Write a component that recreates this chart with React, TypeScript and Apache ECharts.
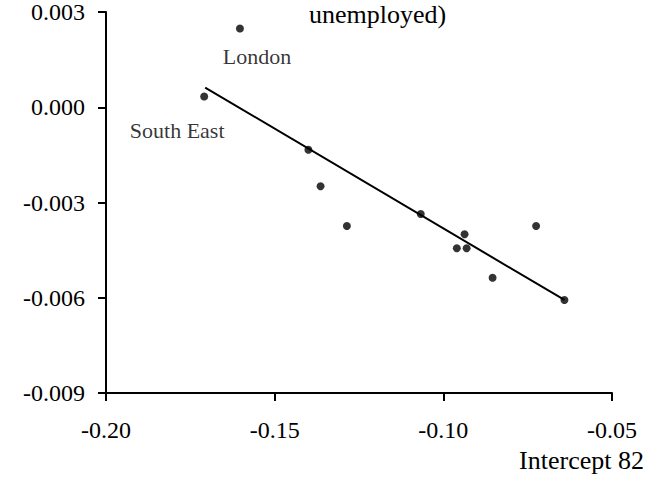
import React, { useEffect, useRef } from "react";
import * as echarts from "echarts";

const FONT = '"Liberation Serif", "Times New Roman", serif';

const titleText = "unemployed)";
const xAxisName = "Intercept 82";

// Scatter points: intercept 82 (x) vs slope (y)
const pointNames = ["South East", "London", "", "", "", "", "", "", "", "", "", ""];
const xValues = [-0.1709, -0.1603, -0.14, -0.1364, -0.1286, -0.1067, -0.0937, -0.096, -0.0931, -0.0854, -0.0725, -0.0641];
const yValues = [0.00034, 0.00248, -0.00134, -0.00249, -0.00374, -0.00336, -0.004, -0.00444, -0.00444, -0.00537, -0.00374, -0.00607];

// Fitted regression line end points
const lineX = [-0.1706, -0.0641];
const lineY = [0.00062, -0.00607];

const labelOffsets: Record<string, [number, number]> = {
  "South East": [-27, 34],
  London: [17, 28],
};

export default function App() {
  const ref = useRef<HTMLDivElement>(null);
  useEffect(() => {
    if (!ref.current) return;
    const chart = echarts.init(ref.current, undefined, { renderer: "svg" });
    const scatterData = xValues.map((x, i) => {
      const name = pointNames[i];
      const item: any = { value: [x, yValues[i]], name };
      if (name) {
        item.label = {
          show: true,
          formatter: name,
          position: "inside",
          align: "center",
          verticalAlign: "middle",
          offset: labelOffsets[name],
          color: "#000",
          fontFamily: FONT,
          fontSize: 22,
        };
      }
      return item;
    });
    chart.setOption({
      animation: false,
      backgroundColor: "#fff",
      title: {
        text: titleText,
        left: 309,
        top: 1,
        padding: 0,
        textStyle: { fontFamily: FONT, fontSize: 26, fontWeight: "normal", color: "#000" },
      },
      grid: { left: 106, right: 49, top: 11, bottom: 86 },
      xAxis: {
        type: "value",
        min: -0.2,
        max: -0.05,
        interval: 0.05,
        axisLine: { show: true, onZero: false, lineStyle: { color: "#000", width: 2 } },
        axisTick: { show: true, inside: false, length: 8, lineStyle: { color: "#000", width: 2 } },
        splitLine: { show: false },
        axisLabel: {
          margin: 25,
          color: "#000",
          fontFamily: FONT,
          fontSize: 24,
          formatter: (v: number) => v.toFixed(2),
        },
      },
      yAxis: {
        type: "value",
        min: -0.009,
        max: 0.003,
        interval: 0.003,
        axisLine: { show: true, onZero: false, lineStyle: { color: "#000", width: 2 } },
        axisTick: { show: true, inside: false, length: 8, lineStyle: { color: "#000", width: 2 } },
        splitLine: { show: false },
        axisLabel: {
          margin: 21,
          color: "#000",
          fontFamily: FONT,
          fontSize: 24,
          formatter: (v: number) => (Math.abs(v) < 1e-9 ? 0 : v).toFixed(3),
        },
      },
      graphic: [
        {
          type: "text",
          right: 17,
          bottom: 6,
          style: { text: xAxisName, fontFamily: FONT, fontSize: 26, fill: "#000" },
        },
      ],
      series: [
        {
          type: "line",
          data: lineX.map((x, i) => [x, lineY[i]]),
          showSymbol: false,
          symbol: "none",
          lineStyle: { color: "#000", width: 2 },
          z: 2,
        },
        {
          type: "scatter",
          data: scatterData,
          symbol: "circle",
          symbolSize: 8,
          itemStyle: { color: "#000" },
          z: 3,
        },
      ],
    });
    return () => chart.dispose();
  }, []);
  return (
    <div
      ref={ref}
      style={{ position: "fixed", left: 0, top: 0, width: 661, height: 479, background: "#fff" }}
    />
  );
}
